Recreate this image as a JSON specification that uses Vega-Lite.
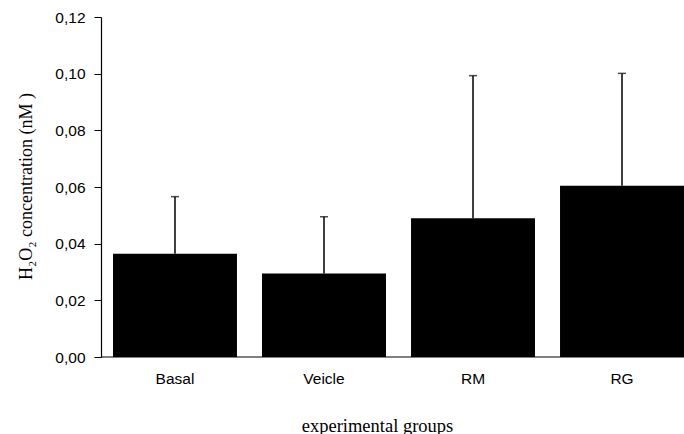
{
  "$schema": "https://vega.github.io/schema/vega-lite/v6.json",
  "autosize": {"type": "none"},
  "padding": {"left": 101, "top": 17, "right": 0, "bottom": 77},
  "width": 583,
  "height": 340,
  "background": "white",
  "config": {"view": {"stroke": null}, "axis": {"grid": false}},
  "data": {"values": [
    {"group": "Basal", "mean": 0.0364, "upper": 0.0566},
    {"group": "Veicle", "mean": 0.0295, "upper": 0.0495},
    {"group": "RM", "mean": 0.049, "upper": 0.0993},
    {"group": "RG", "mean": 0.0604, "upper": 0.1001}
  ]},
  "encoding": {
    "x": {
      "field": "group", "type": "nominal", "sort": null,
      "scale": {"range": [12, 583], "paddingInner": 0.168, "paddingOuter": 0},
      "axis": {
        "title": "experimental groups", "labelAngle": 0, "domain": false, "ticks": false,
        "labelFont": "Liberation Sans", "labelFontSize": 15.5, "labelColor": "#000", "labelPadding": 14,
        "titleFont": "Liberation Serif", "titleFontSize": 18.5, "titleFontWeight": "normal", "titleColor": "#000",
        "titleX": 276, "titleY": 68, "titleAlign": "center", "titleBaseline": "middle"
      }
    }
  },
  "layer": [
    {
      "mark": {"type": "bar", "color": "#000"},
      "encoding": {
        "y": {
          "field": "mean", "type": "quantitative",
          "scale": {"domain": [0, 0.12], "nice": false},
          "axis": {
            "title": "H₂O₂ concentration (nM )", "values": [0, 0.02, 0.04, 0.06, 0.08, 0.1, 0.12],
            "labelExpr": "replace(format(datum.value, '.2f'), '.', ',')",
            "labelFont": "Liberation Sans", "labelFontSize": 15.5, "labelColor": "#000", "labelPadding": 9,
            "tickSize": 7, "tickColor": "#000", "domainColor": "#000", "domainWidth": 1.2,
            "titleFont": "Liberation Serif", "titleFontSize": 18, "titleFontWeight": "normal", "titleColor": "#000",
            "titleX": -75, "titleY": 169, "titleAngle": -90, "titleAlign": "center", "titleBaseline": "middle"
          }
        }
      }
    },
    {
      "mark": {"type": "rule", "color": "#000", "strokeWidth": 1.5},
      "encoding": {"y": {"field": "mean", "type": "quantitative"}, "y2": {"field": "upper"}}
    },
    {
      "mark": {"type": "tick", "color": "#000", "size": 8, "thickness": 1.5},
      "encoding": {"y": {"field": "upper", "type": "quantitative"}}
    },
    {
      "data": {"values": [{"base": 0}]},
      "mark": {"type": "rule", "color": "#000", "strokeWidth": 1.2},
      "encoding": {"y": {"field": "base", "type": "quantitative"}, "x": null}
    }
  ]
}
